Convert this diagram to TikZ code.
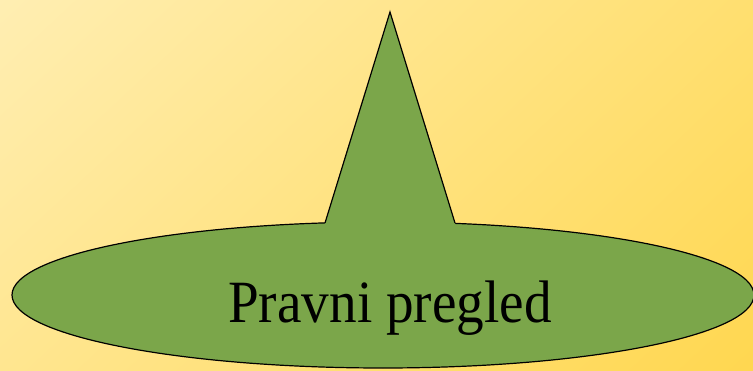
\documentclass[tikz,border=0pt]{standalone}
\usepackage{fontspec}
\newfontfamily\labelfont[FakeStretch=0.92]{Liberation Serif}
\usetikzlibrary{positioning, shadings}
\definecolor{bgLight}{HTML}{FFEEB2}
\definecolor{bgDark}{HTML}{FFD750}
\definecolor{bgMidA}{HTML}{FFDF70}
\definecolor{bgMidB}{HTML}{FFE690}
\definecolor{bubbleGreen}{HTML}{7BA64A}
\tikzset{
    bubble/.style={fill=bubbleGreen, draw=black, line width=1.2pt},
    spikefill/.style={fill=bubbleGreen},
    spikeline/.style={draw=black, line width=1.2pt, line join=miter},
    label/.style={font=\labelfont\fontsize{60}{70}\selectfont, anchor=base, inner sep=0pt}
}

\begin{document}
\begin{tikzpicture}[x=1pt, y=1pt]
    \useasboundingbox (0,0) rectangle (753,370);
    \clip (0,0) rectangle (753,370);
    % background
    \shade[upper left=bgLight, upper right=bgMidA, lower left=bgMidB, lower right=bgDark]
        (0,0) rectangle (753,370);
    % bubble
    \path[bubble] (383,75) ellipse [x radius=371, y radius=73];
    \coordinate (baseL) at (325,147);
    \coordinate (tip) at (390,358);
    \coordinate (baseR) at (455,147);
    \fill[spikefill] (baseL) -- (tip) -- (baseR) -- (455,130) -- (325,130) -- cycle;
    \draw[spikeline] (baseL) -- (tip) -- (baseR);
    \node[label] (review) at (390,48) {Pravni pregled};
\end{tikzpicture}
\end{document}
